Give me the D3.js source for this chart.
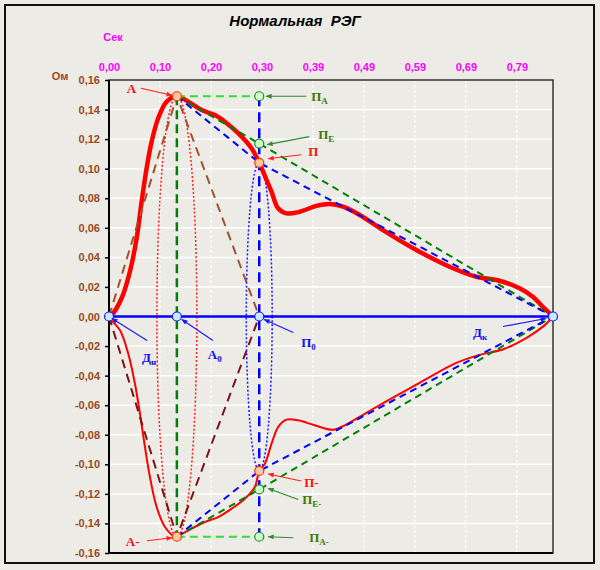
<!DOCTYPE html>
<html lang="ru">
<head>
<meta charset="utf-8">
<title>Нормальная РЭГ</title>
<script src="https://d3js.org/d3.v7.min.js"></script>
<style>
 body { margin: 0; background: #ecebe6; }
 svg text { font-family: "Liberation Sans", Arial, sans-serif; }
</style>
</head>
<body>
<script>

 // top (time) axis, seconds
 var xTickValues = [0, 0.0984, 0.1968, 0.2952, 0.3936, 0.492, 0.5904, 0.6888, 0.7872];
 // left axis, Ohm
 var yTickValues = [0.16, 0.14, 0.12, 0.10, 0.08, 0.06, 0.04, 0.02, 0, -0.02, -0.04, -0.06, -0.08, -0.10, -0.12, -0.14, -0.16];

 // characteristic points of the wave
 var keyNames = ["Дн", "A", "A0", "П", "ПА", "ПЕ", "П0", "Дк", "A-", "П-", "ПЕ-", "ПА-"];
 var keyT = [0, 0.131, 0.131, 0.290, 0.290, 0.290, 0.290, 0.857, 0.131, 0.290, 0.290, 0.290];
 var keyV = [0, 0.149, 0, 0.104, 0.149, 0.117, 0, 0, -0.149, -0.1045, -0.117, -0.149];

 // upper (thick) curve
 var upperT = [0, 0.005, 0.0245, 0.0403, 0.0534, 0.0630, 0.0727, 0.0823, 0.0951, 0.1112, 0.131,
	       0.1529, 0.1787, 0.2044, 0.2236, 0.2493, 0.2751, 0.290, 0.3040, 0.3137, 0.3264, 0.3426,
	       0.3682, 0.4004, 0.4261, 0.4517, 0.4839, 0.5288, 0.5932, 0.6574, 0.7089, 0.7538, 0.7924,
	       0.8180, 0.8373, 0.857];
 var upperV = [0, 0.001, 0.0125, 0.0303, 0.0531, 0.0777, 0.1005, 0.1183, 0.1343, 0.1453, 0.149,
	       0.1453, 0.1397, 0.1363, 0.1318, 0.1240, 0.1138, 0.104, 0.0924, 0.0845, 0.0732, 0.0698,
	       0.0709, 0.0748, 0.0761, 0.0743, 0.0687, 0.0585, 0.0450, 0.0337, 0.0269, 0.0242, 0.0191,
	       0.0134, 0.0066, 0];

 // lower (thin) curve
 var lowerT = [0, 0.002, 0.0212, 0.0372, 0.0501, 0.0598, 0.0694, 0.0790, 0.0920, 0.1080, 0.1273,
	       0.131, 0.1529, 0.1851, 0.2107, 0.2366, 0.2622, 0.2815, 0.290, 0.3009, 0.3137, 0.3264,
	       0.3426, 0.3650, 0.3972, 0.4325, 0.4550, 0.4936, 0.5385, 0.6029, 0.6671, 0.7120, 0.7635,
	       0.8084, 0.8406, 0.857];
 var lowerV = [0, -0.0015, -0.0093, -0.0252, -0.0455, -0.0658, -0.0883, -0.1086, -0.1289, -0.1424, -0.1492,
	       -0.149, -0.1447, -0.1390, -0.1357, -0.1300, -0.1233, -0.1154, -0.1045, -0.0996, -0.0861, -0.0748,
	       -0.0698, -0.0702, -0.0736, -0.0766, -0.0736, -0.0658, -0.0567, -0.0443, -0.0319, -0.0263, -0.0218,
	       -0.0139, -0.0060, 0];

 // half widths of the dotted ellipses (seconds)
 var ellipseA = 0.0386;
 var ellipseP = 0.025;

 var W = 600, H = 570;
 var plot = {left: 109, right: 553, top: 80, bottom: 553};

 var x = d3.scaleLinear().domain([0, 0.857]).range([plot.left, plot.right]);
 var y = d3.scaleLinear().domain([-0.16, 0.16]).range([plot.bottom, plot.top]);

 var loc = d3.formatLocale({decimal: ",", thousands: " ", grouping: [3], currency: ["", ""], minus: "-"});
 var fmt = loc.format(".2f");

 function pt(name) {
     var i = keyNames.indexOf(name);
     return [x(keyT[i]), y(keyV[i])];
 }

 var svg = d3.select("body").append("svg")
	     .attr("width", W)
	     .attr("height", H);

 svg.append("rect").attr("width", W).attr("height", H).attr("fill", "#ecebe6");
 svg.append("rect")
    .attr("x", 5).attr("y", 5).attr("width", 589).attr("height", 558)
    .attr("fill", "#ecebe6").attr("stroke", "#111").attr("stroke-width", 2);

 // markers for annotation arrows
 var defs = svg.append("defs");
 [["red", "#ff2020"], ["green", "#2e8b2e"], ["blue", "#1a1aff"]].forEach(function (m) {
     defs.append("marker")
	 .attr("id", "arr-" + m[0])
	 .attr("viewBox", "0 0 10 10")
	 .attr("refX", 9).attr("refY", 5)
	 .attr("markerWidth", 7).attr("markerHeight", 6)
	 .attr("markerUnits", "userSpaceOnUse")
	 .attr("orient", "auto")
	 .append("path").attr("d", "M0,1L10,5L0,9Z").attr("fill", m[1]);
 });

 // grid
 svg.append("g").selectAll("line")
    .data(yTickValues.filter(function (d) { return Math.abs(d) < 0.159; }))
    .enter().append("line")
    .attr("x1", plot.left).attr("x2", plot.right)
    .attr("y1", function (d) { return y(d); }).attr("y2", function (d) { return y(d); })
    .attr("stroke", "#fff").attr("stroke-width", 1.5);

 svg.append("g").selectAll("line")
    .data(xTickValues.slice(1))
    .enter().append("line")
    .attr("x1", function (d) { return x(d); }).attr("x2", function (d) { return x(d); })
    .attr("y1", plot.top).attr("y2", plot.bottom)
    .attr("stroke", "#fff").attr("stroke-width", 1).attr("stroke-dasharray", "3,2");

 // frame
 svg.append("rect")
    .attr("x", plot.left).attr("y", plot.top)
    .attr("width", plot.right - plot.left).attr("height", plot.bottom - plot.top)
    .attr("fill", "none").attr("stroke", "#333").attr("stroke-width", 1.5);
 svg.append("path")
    .attr("d", "M" + plot.left + "," + plot.top + "V" + plot.bottom + "H" + plot.right)
    .attr("fill", "none").attr("stroke", "#000").attr("stroke-width", 2);

 // axes
 var yAxis = svg.append("g")
		.attr("transform", "translate(" + plot.left + ",0)")
		.call(d3.axisLeft(y).tickValues(yTickValues).tickFormat(fmt).tickSize(4).tickPadding(5));
 yAxis.select(".domain").remove();
 yAxis.selectAll("line").attr("stroke", "#000").attr("stroke-width", 1.5);
 yAxis.selectAll("text")
      .attr("fill", "#9a4a1c").style("font-size", "11px").style("font-weight", "bold")
      .style("font-family", "'Liberation Sans', Arial, sans-serif");

 var xAxis = svg.append("g")
		.attr("transform", "translate(0," + plot.top + ")")
		.call(d3.axisTop(x).tickValues(xTickValues).tickFormat(fmt).tickSize(0).tickPadding(9));
 xAxis.select(".domain").remove();
 xAxis.selectAll("text")
      .attr("fill", "#ff00ff").style("font-size", "11px").style("font-weight", "bold")
      .style("font-family", "'Liberation Sans', Arial, sans-serif");

 svg.append("text").text("Нормальная  РЭГ")
    .attr("x", 295).attr("y", 26).attr("text-anchor", "middle")
    .style("white-space", "pre")
    .style("font-size", "15px").style("font-weight", "bold").style("font-style", "italic");
 svg.append("text").text("Сек")
    .attr("x", 113).attr("y", 41).attr("text-anchor", "middle")
    .attr("fill", "#ff00ff").style("font-size", "11px").style("font-weight", "bold");
 svg.append("text").text("Ом")
    .attr("x", 60).attr("y", 80).attr("text-anchor", "middle")
    .attr("fill", "#9a4a1c").style("font-size", "11px").style("font-weight", "bold");

 // dotted ellipses
 var a = pt("A"), p = pt("П");
 svg.append("ellipse")
    .attr("cx", a[0]).attr("cy", y(0))
    .attr("rx", x(keyT[1] + ellipseA) - a[0]).attr("ry", y(0) - a[1])
    .attr("fill", "none").attr("stroke", "#ff2020").attr("stroke-width", 1.5).attr("stroke-dasharray", "2,2");
 svg.append("ellipse")
    .attr("cx", p[0]).attr("cy", y(0))
    .attr("rx", x(keyT[3] + ellipseP) - p[0]).attr("ry", y(0) - p[1])
    .attr("fill", "none").attr("stroke", "#1a1aff").attr("stroke-width", 1.5).attr("stroke-dasharray", "2,2");

 // red curves
 var curve = d3.line().x(function (d) { return x(d[0]); }).y(function (d) { return y(d[1]); })
	       .curve(d3.curveCatmullRom);
 svg.append("path").datum(d3.zip(upperT, upperV))
    .attr("d", curve).attr("fill", "none").attr("stroke", "#ff0000").attr("stroke-width", 4.5)
    .attr("stroke-linejoin", "round");
 svg.append("path").datum(d3.zip(lowerT, lowerV))
    .attr("d", curve).attr("fill", "none").attr("stroke", "#ff0000").attr("stroke-width", 2)
    .attr("stroke-linejoin", "round");

 // construction lines
 var guides = [
     {pts: ["Дн", "A", "П0"], color: "#a0522d", w: 2, dash: "9,6"},
     {pts: ["Дн", "A-", "П0"], color: "#7a1414", w: 2, dash: "9,6"},
     {pts: ["A", "A-"], color: "#008000", w: 2.5, dash: "9,5"},
     {pts: ["ПА", "ПА-"], color: "#0000ff", w: 2.5, dash: "10,6"},
     {pts: ["A", "ПА"], color: "#33dd33", w: 2, dash: "8,5"},
     {pts: ["A-", "ПА-"], color: "#33dd33", w: 2, dash: "8,5"},
     {pts: ["A", "ПЕ", "Дк"], color: "#008000", w: 2, dash: "7,5"},
     {pts: ["A-", "ПЕ-", "Дк"], color: "#008000", w: 2, dash: "7,5"},
     {pts: ["A", "П", "Дк"], color: "#0000ff", w: 2, dash: "7,5"},
     {pts: ["A-", "П-", "Дк"], color: "#0000ff", w: 2, dash: "7,5"},
     {pts: ["Дн", "Дк"], color: "#0000ff", w: 2.5, dash: null}
 ];
 svg.append("g").selectAll("path")
    .data(guides).enter().append("path")
    .attr("d", function (g) { return d3.line()(g.pts.map(pt)); })
    .attr("fill", "none")
    .attr("stroke", function (g) { return g.color; })
    .attr("stroke-width", function (g) { return g.w; })
    .attr("stroke-dasharray", function (g) { return g.dash; });

 // point markers
 var markers = [
     {names: ["Дн", "A0", "П0", "Дк"], fill: "#cce8ff", stroke: "#1a1aff"},
     {names: ["ПА", "ПЕ", "ПЕ-", "ПА-"], fill: "#ccffcc", stroke: "#1e8c1e"},
     {names: ["A", "П", "A-", "П-"], fill: "#ffc89a", stroke: "#ff3010"}
 ];
 markers.forEach(function (m) {
     svg.append("g").selectAll("circle")
	.data(m.names).enter().append("circle")
	.attr("cx", function (d) { return pt(d)[0]; })
	.attr("cy", function (d) { return pt(d)[1]; })
	.attr("r", 4.5)
	.attr("fill", m.fill).attr("stroke", m.stroke).attr("stroke-width", 1.2);
 });

 // annotations: text offset and arrow offsets from the point, px
 var notes = [
     {at: "A", main: "A", sub: "", c: "red", tx: -50, ty: -3, x1: -36, y1: -8, x2: -5, y2: -1},
     {at: "ПА", main: "П", sub: "А", c: "green", tx: 52, ty: 5, x1: 47, y1: 0, x2: 7, y2: 0},
     {at: "ПЕ", main: "П", sub: "Е", c: "green", tx: 59, ty: -5, x1: 50, y1: -7, x2: 8, y2: 1},
     {at: "П", main: "П", sub: "", c: "red", tx: 49, ty: -7, x1: 42, y1: -8, x2: 9, y2: -4},
     {at: "Дн", main: "Д", sub: "н", c: "blue", tx: 33, ty: 45, x1: 38, y1: 24, x2: 3, y2: 2},
     {at: "A0", main: "А", sub: "0", c: "blue", tx: 31, ty: 42, x1: 36, y1: 24, x2: 5, y2: 3},
     {at: "П0", main: "П", sub: "0", c: "blue", tx: 42, ty: 30, x1: 34, y1: 16, x2: 5, y2: 3},
     {at: "Дк", main: "Д", sub: "к", c: "blue", tx: -80, ty: 20, x1: -50, y1: 10, x2: -7, y2: 2},
     {at: "A-", main: "А-", sub: "", c: "red", tx: -51, ty: 9, x1: -30, y1: 4, x2: -5, y2: 1},
     {at: "П-", main: "П-", sub: "", c: "red", tx: 45, ty: 16, x1: 42, y1: 10, x2: 9, y2: 3},
     {at: "ПЕ-", main: "П", sub: "Е-", c: "green", tx: 43, ty: 15, x1: 39, y1: 10, x2: 9, y2: -1},
     {at: "ПА-", main: "П", sub: "А-", c: "green", tx: 50, ty: 5, x1: 34, y1: 1, x2: 9, y2: 0}
 ];
 var textColor = {red: "#ff1010", green: "#3f7a00", blue: "#1010ee"};
 var lineColor = {red: "#ff2020", green: "#2e8b2e", blue: "#1a1aff"};

 var ann = svg.append("g").selectAll("g").data(notes).enter().append("g")
	      .attr("transform", function (n) { var q = pt(n.at); return "translate(" + q[0] + "," + q[1] + ")"; });
 ann.append("line")
    .attr("x1", function (n) { return n.x1; }).attr("y1", function (n) { return n.y1; })
    .attr("x2", function (n) { return n.x2; }).attr("y2", function (n) { return n.y2; })
    .attr("stroke", function (n) { return lineColor[n.c]; }).attr("stroke-width", 1.2)
    .attr("marker-end", function (n) { return "url(#arr-" + n.c + ")"; });
 var tx = ann.append("text")
	     .attr("x", function (n) { return n.tx; }).attr("y", function (n) { return n.ty; })
	     .attr("fill", function (n) { return textColor[n.c]; })
	     .style("font-family", "'Liberation Serif', 'DejaVu Serif', serif")
	     .style("font-weight", "bold").style("font-size", "13px");
 tx.append("tspan").text(function (n) { return n.main; });
 tx.append("tspan").text(function (n) { return n.sub; })
   .attr("dy", 3).style("font-size", "9px");

</script>
</body>
</html>
